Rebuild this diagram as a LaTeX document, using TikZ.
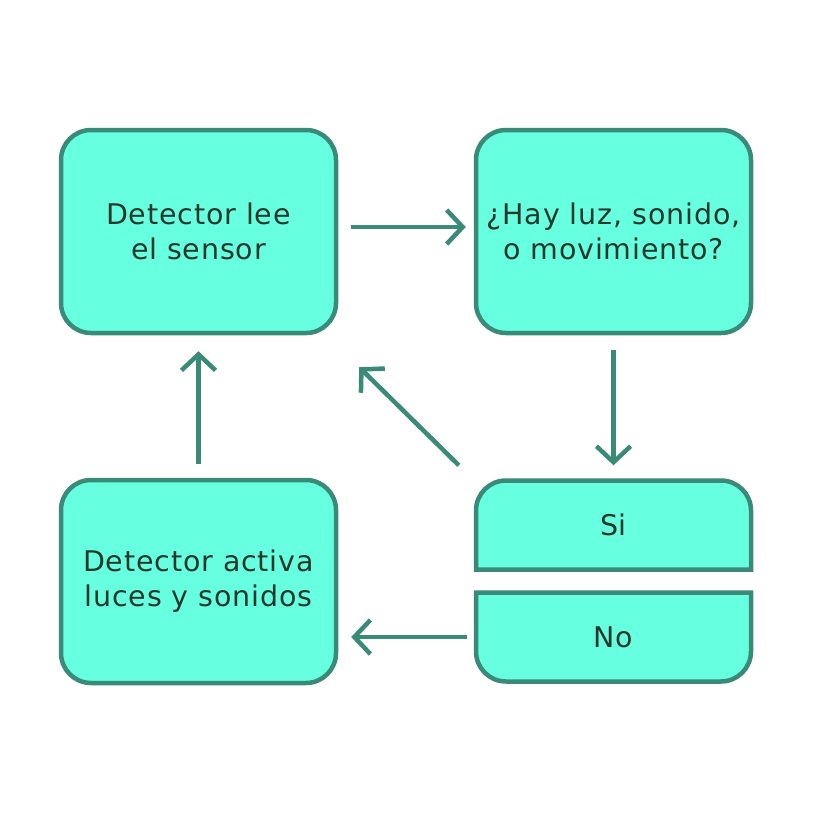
\documentclass[tikz,border=0pt]{standalone}
\usepackage{fontspec}
\setmainfont{DejaVu Sans}[LetterSpace=3]
\usetikzlibrary{arrows.meta}
\definecolor{boxfill}{HTML}{66FFE0}
\definecolor{boxline}{HTML}{3A8A78}
\definecolor{txt}{HTML}{26382C}
\tikzset{
  boxshape/.style={draw=boxline, fill=boxfill, line width=4.5pt, rounded corners=30pt,
    minimum width=275pt, minimum height=203pt, inner sep=0pt, align=center,
    text=txt, font=\fontsize{28.5pt}{35pt}\selectfont},
  halfbox/.style={minimum width=275pt, minimum height=89pt, inner sep=0pt,
    text=txt, font=\fontsize{28.5pt}{35pt}\selectfont},
  halfdraw/.style={draw=boxline, fill=boxfill, line width=4.5pt},
  arr/.style={draw=boxline, line width=4.5pt,
    -{Straight Barb[length=16pt,width=34pt,line join=miter,line cap=butt]}},
}
\begin{document}
\begin{tikzpicture}[x=1pt,y=-1pt]
\useasboundingbox (0,0) rectangle (814,814);
% main boxes
\node[boxshape] (b1) at (198.5,231.5) {Detector lee\\el sensor};
\node[boxshape] (b2) at (613.5,231.5) {¿Hay luz, sonido,\\o movimiento?};
\node[boxshape] (b3) at (198.5,581.5) {Detector activa\\luces y sonidos};
% Si / No boxes
\path (613.5,525) coordinate (sic);
\path (613.5,637) coordinate (noc);
\draw[halfdraw] ([shift={(-137.5,44.5)}]sic) [rounded corners=30pt] -- ([shift={(-137.5,-44.5)}]sic)
  -- ([shift={(137.5,-44.5)}]sic) [sharp corners] -- ([shift={(137.5,44.5)}]sic) -- cycle;
\draw[halfdraw] ([shift={(-137.5,-44.5)}]noc) [rounded corners=30pt] -- ([shift={(-137.5,44.5)}]noc)
  -- ([shift={(137.5,44.5)}]noc) [sharp corners] -- ([shift={(137.5,-44.5)}]noc) -- cycle;
\node[halfbox] (si) at (sic) {Si};
\node[halfbox] (no) at (noc) {No};
\coordinate (b3e) at (b3.east |- no.west);
% connectors
\draw[arr] ([xshift=13pt,yshift=4.5pt]b1.east) -- ([xshift=-8pt,yshift=4.5pt]b2.west);
\draw[arr] ([yshift=-15pt]b2.south) -- ([yshift=15pt]si.north);
\draw[arr] ([shift={(-17,-15)}]si.north west) -- ([shift={(21,32)}]b1.south east);
\draw[arr] ([xshift=-9pt]no.west) -- ([xshift=13pt]b3e);
\draw[arr] ([yshift=14pt]b3.north) -- ([yshift=-16pt]b1.south);
\end{tikzpicture}
\end{document}
